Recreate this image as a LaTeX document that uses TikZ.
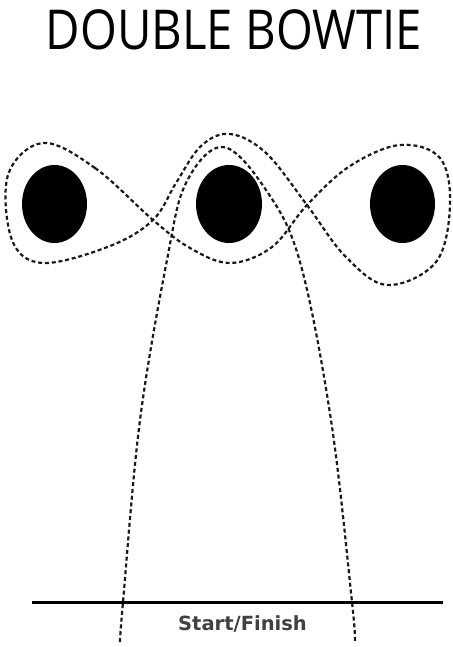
\documentclass[tikz,border=0pt]{standalone}
\usepackage{fontspec}
\setmainfont{Open Sans}
\newfontfamily\sflabel{DejaVu Sans}
\begin{document}
\begin{tikzpicture}[x=1pt,y=-1pt,
  route/.style={line width=2.2pt, dash pattern=on 4pt off 2.8pt, black!90},
  post/.style={fill=black},
  baseline/.style={line width=3.5pt}]
\useasboundingbox (0,0) rectangle (452,647);
\node[anchor=base, inner sep=0pt, xscale=0.86, font=\fontsize{55}{60}\selectfont] (title) at (234,50) {DOUBLE BOWTIE};
% posts
\fill[post] (54.5,204) ellipse [x radius=32.5, y radius=39];
\fill[post] (229,204) ellipse [x radius=33, y radius=39];
\fill[post] (402.5,204) ellipse [x radius=32.5, y radius=39];
% double bowtie loop
\draw[route] plot[smooth cycle, tension=0.6] coordinates {
 (43,143) (95,168) (153,220) (190,248) (230,263) (272,247) (307,205)
 (350,166) (400,145) (440,158) (450,205) (436,262) (387,285) (345,256)
 (307,205) (266,153) (230,134) (201,146) (176,183) (153,220) (110,246)
 (43,263) (12,240) (8,175)};
% start/finish arch
\draw[route] plot[smooth, tension=0.6] coordinates {
 (120,642) (123,602) (140,420) (167,260) (186,183) (223,147)
 (266,190) (300,262) (331,420) (352,602) (355,642)};
% start/finish line
\coordinate (sl) at (32,602.5);
\coordinate (sr) at (443,602.5);
\draw[baseline] (sl) -- (sr);
\node[anchor=base, inner sep=0pt, text=black!75, font=\sflabel\bfseries\fontsize{19.5}{22}\selectfont] (sf) at (242.5,630) {Start/Finish};
\end{tikzpicture}
\end{document}
